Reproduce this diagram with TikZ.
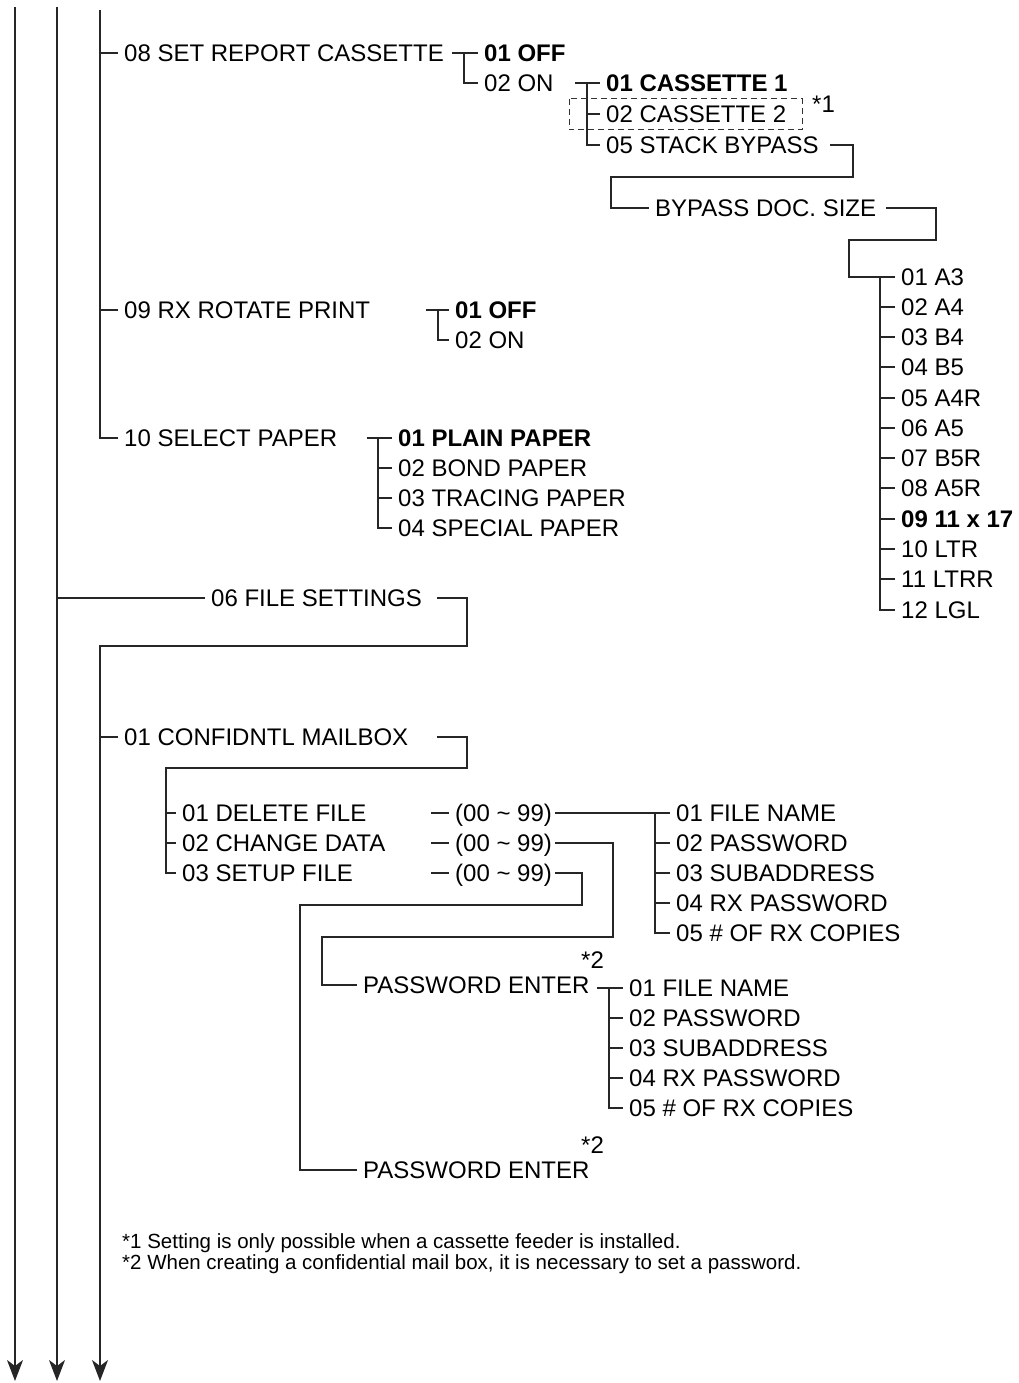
\documentclass[tikz,border=0pt]{standalone}
\usepackage{fontspec}
\setmainfont{Liberation Sans}
\usetikzlibrary{arrows.meta}
\begin{document}
\begin{tikzpicture}[x=1pt,y=-1pt,
  ln/.style={line width=1.2pt, draw=black!85},
  arr/.style={ln, -{Stealth[length=21pt,width=16pt,inset=6pt]}},
  lbl/.style={anchor=west, inner xsep=6pt, inner ysep=0pt, text height=17pt, text depth=0pt, font=\fontsize{24}{28}\selectfont},
  blbl/.style={lbl, font=\fontsize{24}{28}\selectfont\bfseries},
  fn/.style={anchor=west, inner sep=0pt, text height=15pt, text depth=0pt, font=\fontsize{20.5}{24}\selectfont},
  dbox/.style={line width=1pt, draw=black!80, dash pattern=on 6pt off 4pt}]
\useasboundingbox (0,0) rectangle (1019,1383);

% ---------- trunk coordinates ----------
\coordinate (Atop) at (15,7);   \coordinate (Abot) at (15,1381);
\coordinate (Btop) at (57,7);   \coordinate (Bbot) at (57,1381);
\coordinate (Ctop) at (100,10); \coordinate (Cbot) at (100,1381);

% ---------- 08 SET REPORT CASSETTE ----------
\node[lbl]  (n08)  at (118,53)  {08 SET REPORT CASSETTE};
\node[blbl] (n08a) at (478,53)  {01 OFF};
\node[lbl]  (n08b) at (478,83)  {02 ON};
\node[blbl] (c1)   at (600,83)  {01 CASSETTE 1};
\node[lbl]  (c2)   at (600,114) {02 CASSETTE 2};
\node[lbl]  (c5)   at (600,145) {05 STACK BYPASS};
\node[lbl]  (s1)   at (806,104) {*1};
\node[lbl]  (byp)  at (649,208) {BYPASS DOC. SIZE};

\node[lbl]  (z1)  at (895,277) {01 A3};
\node[lbl]  (z2)  at (895,307) {02 A4};
\node[lbl]  (z3)  at (895,337) {03 B4};
\node[lbl]  (z4)  at (895,367) {04 B5};
\node[lbl]  (z5)  at (895,398) {05 A4R};
\node[lbl]  (z6)  at (895,428) {06 A5};
\node[lbl]  (z7)  at (895,458) {07 B5R};
\node[lbl]  (z8)  at (895,488) {08 A5R};
\node[blbl] (z9)  at (895,519) {09 11 x 17};
\node[lbl]  (z10) at (895,549) {10 LTR};
\node[lbl]  (z11) at (895,579) {11 LTRR};
\node[lbl]  (z12) at (895,610) {12 LGL};

% ---------- 09 / 10 ----------
\node[lbl]  (n09)  at (118,310) {09 RX ROTATE PRINT};
\node[blbl] (n09a) at (449,310) {01 OFF};
\node[lbl]  (n09b) at (449,340) {02 ON};

\node[lbl]  (n10) at (118,438) {10 SELECT PAPER};
\node[blbl] (p1)  at (392,438) {01 PLAIN PAPER};
\node[lbl]  (p2)  at (392,468) {02 BOND PAPER};
\node[lbl]  (p3)  at (392,498) {03 TRACING PAPER};
\node[lbl]  (p4)  at (392,528) {04 SPECIAL PAPER};

% ---------- 06 FILE SETTINGS ----------
\node[lbl] (n06)  at (205,598) {06 FILE SETTINGS};
\node[lbl] (conf) at (118,737) {01 CONFIDNTL MAILBOX};
\node[lbl] (del)  at (176,813) {01 DELETE FILE};
\node[lbl] (chg)  at (176,843) {02 CHANGE DATA};
\node[lbl] (stp)  at (176,873) {03 SETUP FILE};
\node[lbl] (r1)   at (449,813) {(00 \textasciitilde{} 99)};
\node[lbl] (r2)   at (449,843) {(00 \textasciitilde{} 99)};
\node[lbl] (r3)   at (449,873) {(00 \textasciitilde{} 99)};

\node[lbl] (l1) at (670,813) {01 FILE NAME};
\node[lbl] (l2) at (670,843) {02 PASSWORD};
\node[lbl] (l3) at (670,873) {03 SUBADDRESS};
\node[lbl] (l4) at (670,903) {04 RX PASSWORD};
\node[lbl] (l5) at (670,933) {05 \# OF RX COPIES};

\node[lbl] (pe1) at (357,985) {PASSWORD ENTER};
\node[lbl] (st1) at (575,960) {*2};
\node[lbl] (q1) at (623,988)  {01 FILE NAME};
\node[lbl] (q2) at (623,1018) {02 PASSWORD};
\node[lbl] (q3) at (623,1048) {03 SUBADDRESS};
\node[lbl] (q4) at (623,1078) {04 RX PASSWORD};
\node[lbl] (q5) at (623,1108) {05 \# OF RX COPIES};

\node[lbl] (pe2) at (357,1170) {PASSWORD ENTER};
\node[lbl] (st2) at (575,1145) {*2};

\node[fn] (f1) at (122,1241) {*1 Setting is only possible when a cassette feeder is installed.};
\node[fn] (f2) at (122,1262) {*2 When creating a confidential mail box, it is necessary to set a password.};

% ---------- trunks ----------
\draw[arr] (Atop) -- (Abot);
\draw[arr] (Btop) -- (Bbot);
\draw[ln] (Ctop) |- (n10.west);
\draw[ln] (100,53) -- (n08.west);
\draw[ln] (100,310) -- (n09.west);

% 08 branch
\draw[ln] (452,53) -- (n08a.west);
\draw[ln] (464,53) |- (n08b.west);
\draw[ln] (575,83) -- (c1.west);
\draw[ln] (587,83) |- (c5.west);
\draw[ln] (587,114) -- (c2.west);
\draw[dbox] (569,99) rectangle (802,130);
\draw[ln] (830,145) -| (853,177) -| (611,208) -- (byp.west);
\draw[ln] (886,208) -| (936,240) -| (849,277) -- (z1.west);
\draw[ln] (880,277) |- (z12.west);
\foreach \k/\y in {2/307,3/337,4/367,5/398,6/428,7/458,8/488,9/519,10/549,11/579}
  \draw[ln] (880,\y) -- (z\k.west);

% 09 branch
\draw[ln] (426,310) -- (n09a.west);
\draw[ln] (438,310) |- (n09b.west);

% 10 branch
\draw[ln] (367,438) -- (p1.west);
\draw[ln] (378,438) |- (p4.west);
\draw[ln] (378,468) -- (p2.west);
\draw[ln] (378,498) -- (p3.west);

% 06 FILE SETTINGS
\draw[ln] (57,598) -- (n06.west);
\draw[arr] (437,598) -| (467,646) -| (Cbot);
\draw[ln] (100,737) -- (conf.west);
\draw[ln] (437,737) -| (467,768) -| (166,873) -- (stp.west);
\draw[ln] (166,813) -- (del.west);
\draw[ln] (166,843) -- (chg.west);
\draw[ln] (431,813) -- (r1.west);
\draw[ln] (431,843) -- (r2.west);
\draw[ln] (431,873) -- (r3.west);

\draw[ln] (555,813) -- (l1.west);
\draw[ln] (655,813) |- (l5.west);
\draw[ln] (655,843) -- (l2.west);
\draw[ln] (655,873) -- (l3.west);
\draw[ln] (655,903) -- (l4.west);

\draw[ln] (555,843) -| (613,937) -- (322,937) |- (pe1.west);
\draw[ln] (555,873) -| (582,905) -- (300,905) |- (pe2.west);

\draw[ln] (597,988) -- (q1.west);
\draw[ln] (609,988) |- (q5.west);
\draw[ln] (609,1018) -- (q2.west);
\draw[ln] (609,1048) -- (q3.west);
\draw[ln] (609,1078) -- (q4.west);
\end{tikzpicture}
\end{document}
